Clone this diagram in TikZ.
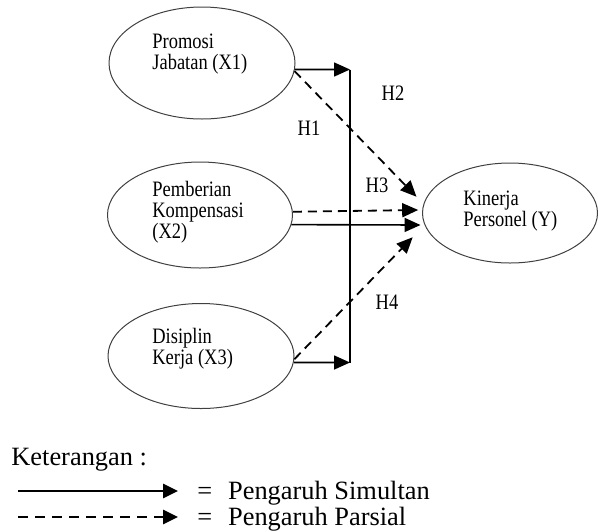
\documentclass[tikz,border=0pt]{standalone}
\usepackage{fontspec}
\setmainfont{Liberation Serif}
\newfontfamily\narrowserif[FakeStretch=0.84]{Liberation Serif}
\usetikzlibrary{arrows.meta,shapes.geometric}

\tikzset{
  var/.style={draw=black!75, line width=0.5pt, ellipse, inner sep=0pt},
  txt/.style={font=\narrowserif\fontsize{11}{10.5}\selectfont, align=left, inner sep=0pt, anchor=west},
  simultan/.style={line width=0.8pt, -{Triangle[length=8pt,width=7pt]}},
  parsial/.style={simultan, line width=0.9pt, dash pattern=on 4.5pt off 3pt},
  legend/.style={font=\fontsize{13.2}{15}\selectfont, inner sep=0pt, anchor=base west},
  legsimultan/.style={line width=1.4pt, -{Triangle[length=7.5pt,width=7pt]}},
  legparsial/.style={legsimultan, dash pattern=on 5pt off 3.5pt},
}

\begin{document}
\begin{tikzpicture}[x=0.5pt,y=-0.5pt]
  \useasboundingbox (0,0) rectangle (598,531);

  \node[var, minimum width=93pt, minimum height=56pt] (x1) at (202,63) {};
  \node[var, minimum width=92.5pt, minimum height=53pt] (x2) at (200,215) {};
  \node[var, minimum width=93pt, minimum height=52.5pt] (x3) at (201,356) {};
  \node[var, minimum width=87.5pt, minimum height=50pt] (y) at (510,213) {};

  \node[txt] (t1) at (152,54) {Promosi\\Jabatan (X1)};
  \node[txt] (t2) at (152,212) {Pemberian\\Kompensasi\\(X2)};
  \node[txt] (t3) at (152,349) {Disiplin\\Kerja (X3)};
  \node[txt] (ty) at (463,211) {Kinerja\\Personel (Y)};

  \node[txt, anchor=center] (h1) at (309,128) {H1};
  \node[txt, anchor=center] (h2) at (393,93) {H2};
  \node[txt, anchor=center] (h3) at (377,185) {H3};
  \node[txt, anchor=center] (h4) at (387,302) {H4};

  \coordinate (j1) at (350,69.5);
  \coordinate (j3) at (350,362.5);

  \draw[simultan] (x1.-4) -- (j1);
  \draw[simultan] (x3.-4) -- (j3);
  \draw[line width=0.8pt] (j1) -- (j3);
  \draw[simultan, shorten >=2pt] (x2.-6) -- (y.188);
  \draw[parsial, shorten >=2pt] (x2.2.5) -- (y.178.5);
  \draw[parsial, shorten >=5pt] (x1.-5) -- (y.174);
  \draw[parsial, shorten >=8.5pt] (x3.-2.5) -- (y.188);

  \node[legend] (ket) at (11,465) {Keterangan :};
  \coordinate (s0) at (18,491);
  \coordinate (s1) at (178,491);
  \coordinate (p0) at (18,517);
  \coordinate (p1) at (178,517);
  \draw[legsimultan] (s0) -- (s1);
  \draw[legparsial] (p0) -- (p1);
  \node[legend] (sim) at (197,499) {=\hspace{0.6em}Pengaruh Simultan};
  \node[legend] (par) at (197,525) {=\hspace{0.6em}Pengaruh Parsial};
\end{tikzpicture}
\end{document}
